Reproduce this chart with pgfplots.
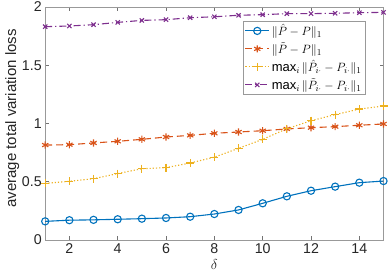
\documentclass[border=0pt]{standalone}
\usepackage{fontspec}
\setmainfont{Liberation Sans}
\usepackage{pgfplots}
\pgfplotsset{compat=1.18}
\definecolor{mblue}{rgb}{0,0.447,0.741}
\definecolor{morange}{rgb}{0.85,0.325,0.098}
\definecolor{myellow}{rgb}{0.929,0.694,0.125}
\definecolor{mpurple}{rgb}{0.494,0.184,0.556}
\begin{document}
\begin{tikzpicture}
\begin{axis}[
  name=ax,
  scale only axis,
  width=338.3pt, height=233pt,
  xmin=1, xmax=15, ymin=0, ymax=2,
  xtick={2,4,...,14},
  ytick={0,0.5,1,1.5,2},
  yticklabels={0,0.5,1,1.5,2},
  tick align=inside,
  major tick length=4pt,
  axis line style={black!40, line width=0.6pt},
  every tick/.style={black!55, line width=0.6pt},
  tick label style={font=\fontsize{14.2}{16}\selectfont, text=black!85},
  /pgf/number format/assume math mode=true,
  xlabel={$\delta$},
  ylabel={average total variation loss},
  every axis x label/.style={at={(axis description cs:0.5,0)}, anchor=center, yshift=-25pt, font=\fontsize{15}{18}\selectfont, text=black!85},
  every axis y label/.style={at={(axis description cs:0,0.5)}, xshift=-33pt, yshift=5pt, rotate=90, anchor=center, font=\fontsize{15}{18}\selectfont, text=black!85},
  legend style={at={(0.945,0.94)}, anchor=north east, draw=black!40, line width=0.6pt, fill=white,
    font=\fontsize{13}{15}\selectfont, inner sep=1.5pt, outer sep=0pt, row sep=1.3pt,
    cells={anchor=west}},
  legend image code/.code={\draw[mark repeat=2,mark phase=2] plot coordinates {(0cm,0cm) (0.42cm,0cm) (0.84cm,0cm)};},
  legend cell align=left,
]
\addplot[color=mblue, line width=1.1pt, mark=o, mark size=3.6pt, mark options={solid}] coordinates {
(1,0.160) (2,0.170) (3,0.173) (4,0.178) (5,0.183) (6,0.189) (7,0.200) (8,0.223)
(9,0.258) (10,0.315) (11,0.375) (12,0.423) (13,0.458) (14,0.492) (15,0.506)};
\addlegendentry{$\|\hat{P}-P\|_1$}
\addplot[color=morange, line width=1.1pt, dash pattern=on 7pt off 4pt, mark=asterisk, mark size=3.6pt, mark options={solid}] coordinates {
(1,0.815) (2,0.818) (3,0.833) (4,0.847) (5,0.864) (6,0.884) (7,0.898) (8,0.916)
(9,0.927) (10,0.938) (11,0.953) (12,0.964) (13,0.973) (14,0.985) (15,0.996)};
\addlegendentry{$\|\tilde{P}-P\|_1$}
\addplot[color=myellow, line width=1.1pt, dash pattern=on 1.2pt off 2pt, mark=+, mark size=4pt, mark options={solid}] coordinates {
(1,0.486) (2,0.504) (3,0.526) (4,0.570) (5,0.612) (6,0.621) (7,0.661) (8,0.711)
(9,0.787) (10,0.864) (11,0.955) (12,1.024) (13,1.076) (14,1.124) (15,1.150)};
\addlegendentry{$\max_i\|\hat{P}_{i\cdot}-P_{i\cdot}\|_1$}
\addplot[color=mpurple, line width=1.1pt, dash pattern=on 7pt off 3pt on 1.2pt off 3pt, mark=x, mark size=3pt, mark options={solid}] coordinates {
(1,1.831) (2,1.837) (3,1.848) (4,1.868) (5,1.885) (6,1.891) (7,1.908) (8,1.916)
(9,1.929) (10,1.934) (11,1.943) (12,1.943) (13,1.946) (14,1.951) (15,1.954)};
\addlegendentry{$\max_i\|\tilde{P}_{i\cdot}-P_{i\cdot}\|_1$}
\end{axis}
\pgfresetboundingbox
\path[use as bounding box] ([xshift=-45.2pt,yshift=-37pt]ax.south west) rectangle ([xshift=6.5pt,yshift=7pt]ax.north east);
\end{tikzpicture}
\end{document}
